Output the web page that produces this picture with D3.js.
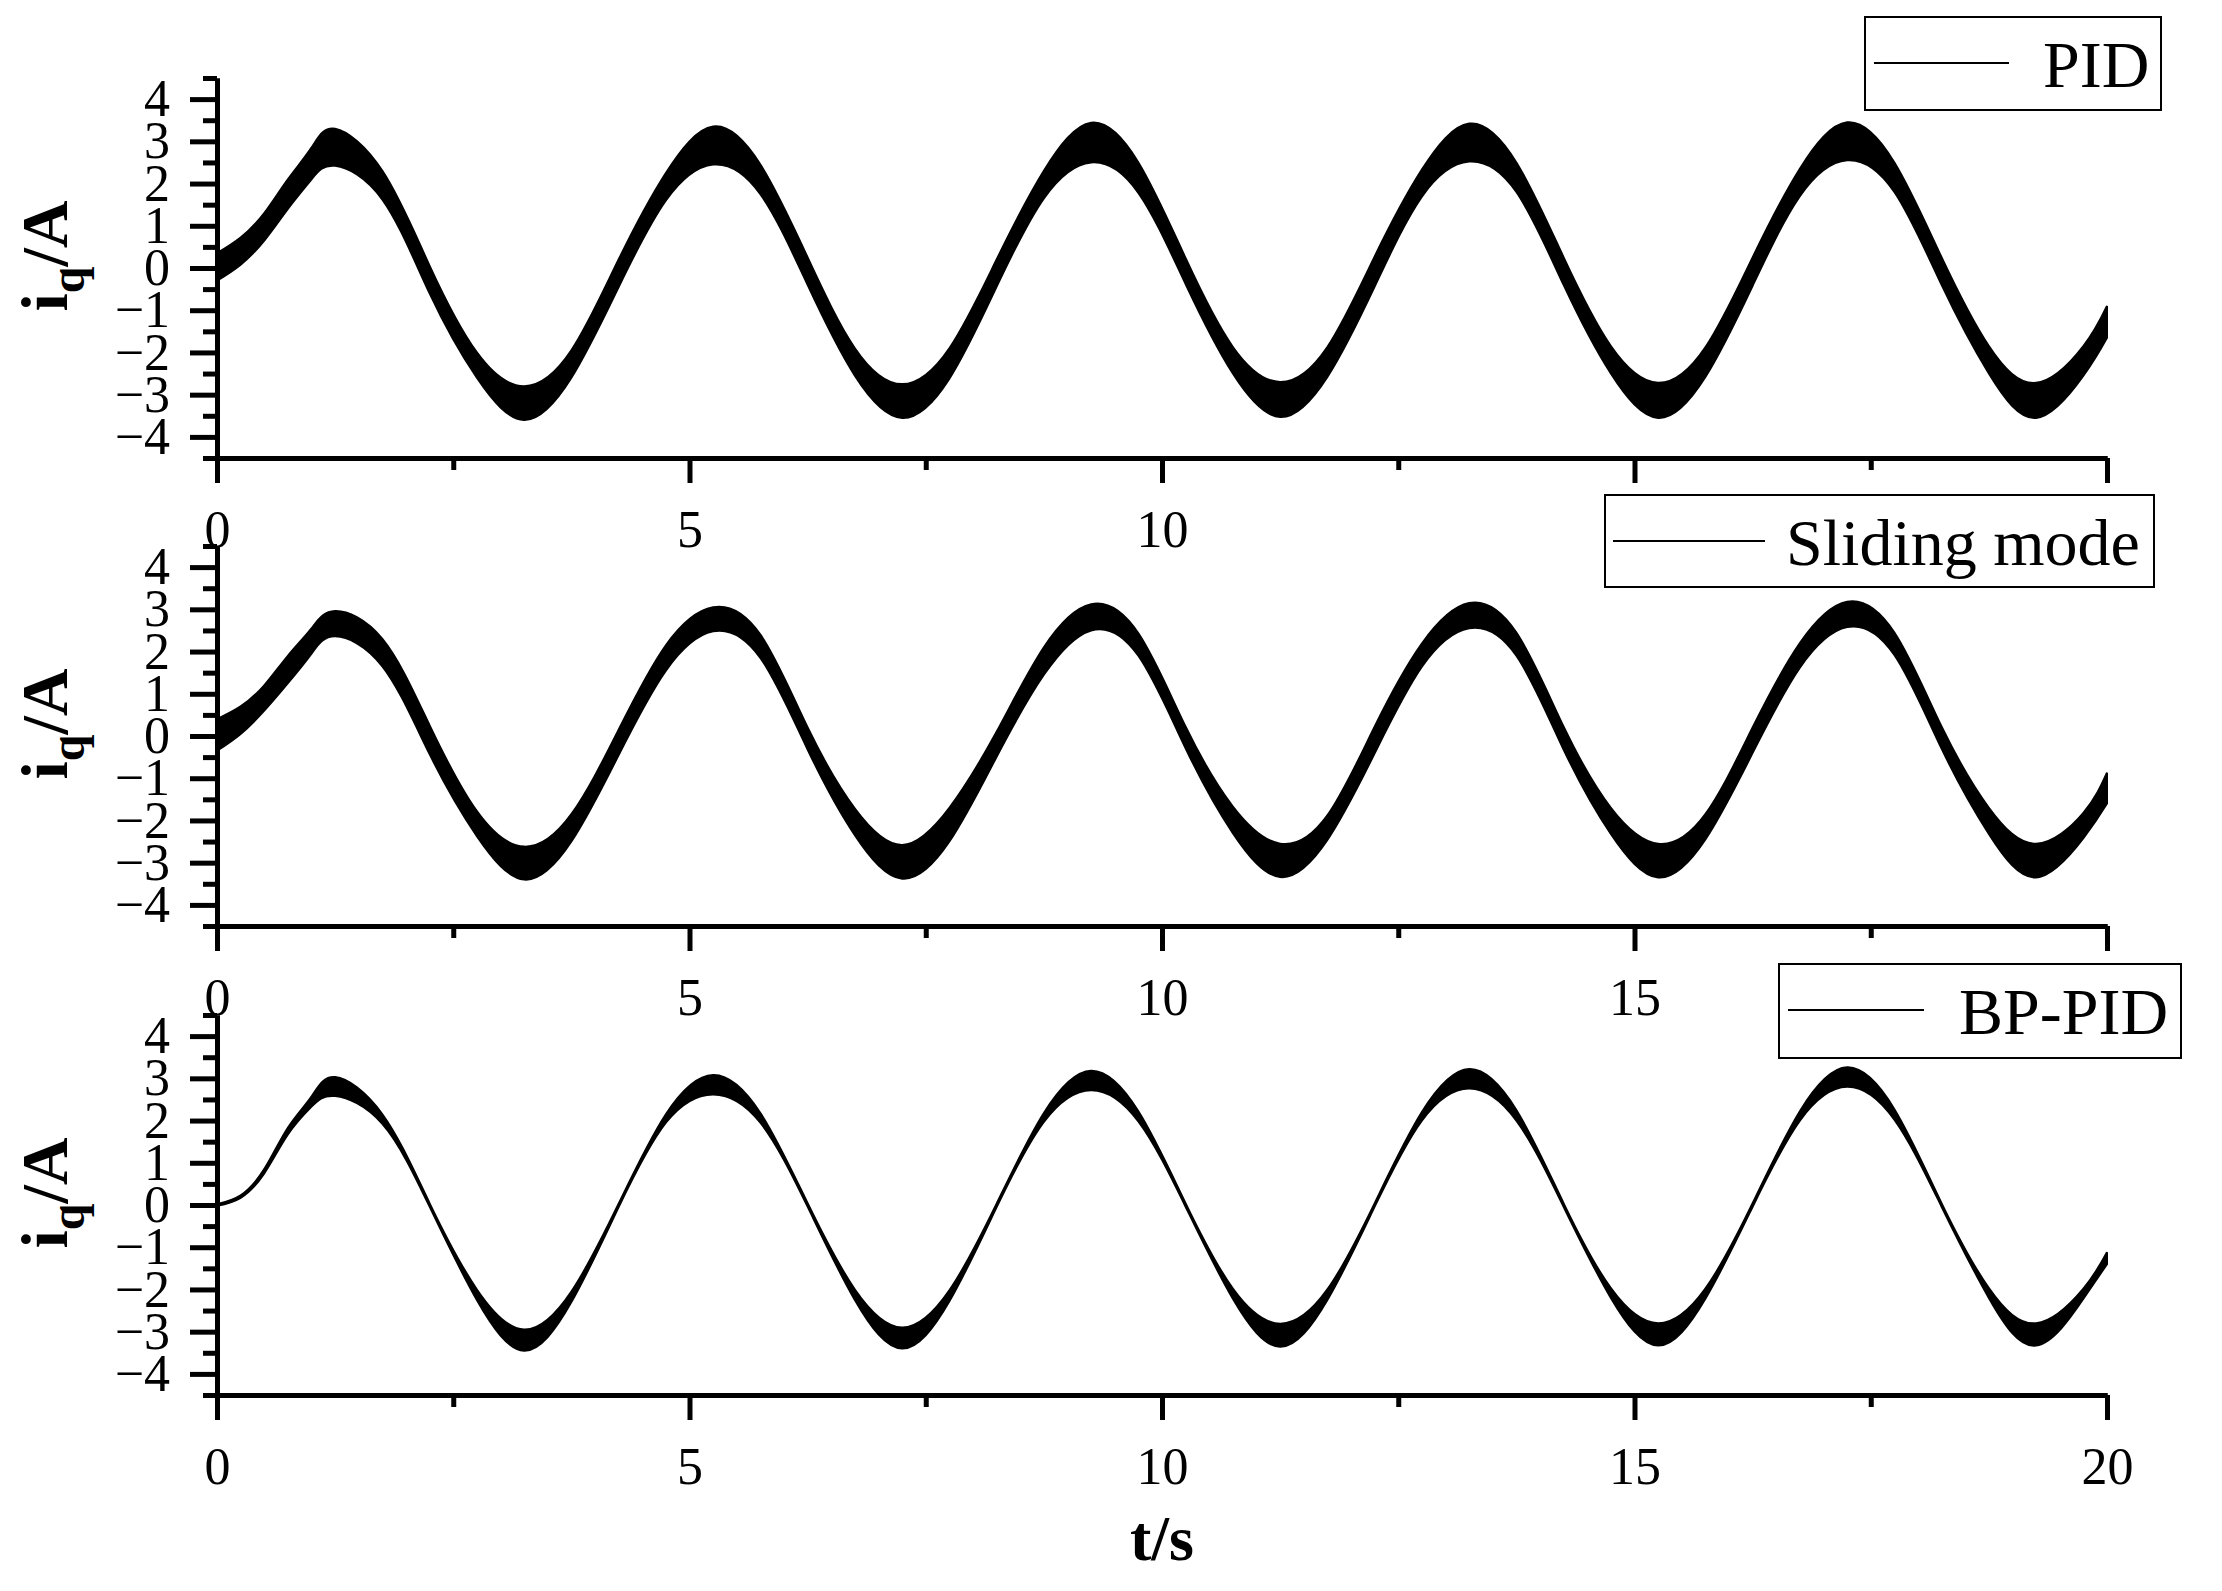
<!DOCTYPE html>
<html>
<head>
<meta charset="utf-8">
<script src="https://cdn.jsdelivr.net/npm/d3@7/dist/d3.min.js"></script>
<style>
body { margin: 0; background: #fff; }
text { font-family: "Liberation Serif", "Times New Roman", serif; fill: #000; }
</style>
</head>
<body>
<svg id="chart" width="2222" height="1591"></svg>
<script>
// sample times (s): start-up, then peaks / zero crossings / half-way points of each cycle
var time = [0, 0.25, 0.5, 0.75, 1, 1.25, 1.75, 2.25, 2.75, 3.25, 3.75, 4.25, 4.75,
	5.25, 5.75, 6.25, 6.75, 7.25, 7.75, 8.25, 8.75, 9.25, 9.75, 10.25, 10.75,
	11.25, 11.75, 12.25, 12.75, 13.25, 13.75, 14.25, 14.75, 15.25, 15.75, 16.25,
	16.75, 17.25, 17.75, 18.25, 18.75, 19.25, 19.75, 20];

// iq envelopes (A), upper and lower edge of the ripple band
var pidUpper = [0.35, 0.72, 1.30, 2.10, 2.85, 3.30, 2.30, 0.05, -2.00, -2.80, -1.95, 0.20, 2.25,
	3.35, 2.45, 0.25, -1.90, -2.75, -1.90, 0.20, 2.30, 3.44, 2.50, 0.23, -1.87,
	-2.70, -1.87, 0.27, 2.33, 3.42, 2.50, 0.25, -1.85, -2.72, -1.88, 0.25,
	2.35, 3.45, 2.50, 0.25, -1.85, -2.72, -1.85, -0.90];
var pidLower = [-0.30, 0.08, 0.65, 1.40, 2.10, 2.42, 1.62, -0.60, -2.60, -3.60, -2.60, -0.45, 1.60,
	2.45, 1.75, -0.40, -2.55, -3.55, -2.62, -0.44, 1.65, 2.50, 1.78, -0.38, -2.50,
	-3.53, -2.58, -0.44, 1.69, 2.52, 1.80, -0.40, -2.50, -3.55, -2.58, -0.42,
	1.70, 2.55, 1.80, -0.40, -2.50, -3.55, -2.55, -1.65];

var smcUpper = [0.40, 0.70, 1.20, 1.90, 2.55, 2.96, 2.30, 0.25, -1.78, -2.62, -1.85, 0.15, 2.15,
	3.05, 2.40, 0.20, -1.72, -2.58, -1.70, 0.10, 2.10, 3.12, 2.43, 0.22, -1.67,
	-2.55, -1.88, 0.22, 2.19, 3.15, 2.45, 0.22, -1.70, -2.55, -1.85, 0.20,
	2.20, 3.18, 2.45, 0.22, -1.70, -2.55, -1.82, -0.87];
var smcLower = [-0.35, 0.05, 0.60, 1.25, 1.95, 2.36, 1.65, -0.43, -2.37, -3.40, -2.50, -0.45, 1.55,
	2.48, 1.85, -0.32, -2.35, -3.38, -2.50, -0.49, 1.45, 2.50, 1.90, -0.29, -2.30,
	-3.34, -2.46, -0.41, 1.64, 2.55, 1.90, -0.32, -2.32, -3.35, -2.45, -0.40,
	1.62, 2.58, 1.92, -0.30, -2.32, -3.35, -2.42, -1.60];

var bpUpper = [0.02, 0.23, 0.85, 1.83, 2.57, 3.03, 2.15, 0.04, -2.00, -2.95, -2.05, 0.03, 2.15,
	3.08, 2.18, 0.04, -2.00, -2.90, -2.02, 0.03, 2.18, 3.18, 2.22, 0.04, -1.98,
	-2.81, -2.00, 0.04, 2.20, 3.22, 2.25, 0.04, -1.97, -2.80, -1.98, 0.04,
	2.22, 3.26, 2.27, 0.04, -1.97, -2.80, -1.98, -1.12];
var bpLower = [-0.02, 0.17, 0.75, 1.67, 2.33, 2.58, 1.92, -0.04, -2.25, -3.45, -2.30, -0.05, 1.95,
	2.62, 1.95, -0.04, -2.25, -3.40, -2.28, -0.05, 1.97, 2.72, 1.98, -0.04, -2.22,
	-3.36, -2.25, -0.04, 2.00, 2.76, 2.00, -0.04, -2.20, -3.33, -2.22, -0.04,
	2.00, 2.80, 2.02, -0.04, -2.20, -3.33, -2.22, -1.40];

var seriesNames = ['PID', 'Sliding mode', 'BP-PID'];
var xTicks = [0, 5, 10, 15, 20];
var xMinorTicks = [2.5, 7.5, 12.5, 17.5];
var yTicks = [-4, -3, -2, -1, 0, 1, 2, 3, 4];
var yMinorTicks = [-4.5, -3.5, -2.5, -1.5, -0.5, 0.5, 1.5, 2.5, 3.5, 4.5];
// x labels left visible (the others sit under the next panel's legend)
var xLabelsShown = [[0, 5, 10], [0, 5, 10, 15], [0, 5, 10, 15, 20]];

var PLOT_LEFT = 217;
var PLOT_RIGHT = 2107;
var PANEL_HEIGHT = 380;
var AXIS_WIDTH = 5;

// one entry per stacked panel
var panels = [
	{top: 78, name: seriesNames[0], upper: pidUpper, lower: pidLower,
		legend: {x: 1865, y: 17, w: 296, h: 93, line: [1874, 2009], textX: 2043}},
	{top: 546, name: seriesNames[1], upper: smcUpper, lower: smcLower,
		legend: {x: 1605, y: 495, w: 549, h: 92, line: [1613, 1765], textX: 1786}},
	{top: 1015, name: seriesNames[2], upper: bpUpper, lower: bpLower,
		legend: {x: 1779, y: 964, w: 402, h: 94, line: [1788, 1924], textX: 1959}}
];

var svg = d3.select('#chart');

var x = d3.scaleLinear()
	.domain([0, 20])
	.range([PLOT_LEFT, PLOT_RIGHT]);

function styleAxis(g) {
	g.selectAll('path, line')
		.attr('stroke', '#000')
		.attr('stroke-width', AXIS_WIDTH);
	g.selectAll('text')
		.attr('font-size', 52)
		.attr('fill', '#000')
		.style('font-family', '"Liberation Serif", "Times New Roman", serif');
}

panels.forEach(function(p, k) {
	var bottom = p.top + PANEL_HEIGHT;
	var y = d3.scaleLinear()
		.domain([-4.5, 4.5])
		.range([bottom, p.top]);

	var g = svg.append('g').attr('class', 'panel');

	// ripple band of the current signal
	var band = d3.area()
		.x(function(d, i) { return x(time[i]); })
		.y0(function(d, i) { return y(p.lower[i]); })
		.y1(function(d, i) { return y(p.upper[i]); })
		.curve(d3.curveNatural);

	g.append('path')
		.datum(time)
		.attr('d', band)
		.attr('fill', '#000')
		.attr('stroke', '#000')
		.attr('stroke-width', 2);

	// y axis, major + minor
	g.append('g')
		.attr('transform', 'translate(' + PLOT_LEFT + ',0)')
		.call(d3.axisLeft(y).tickValues(yMinorTicks).tickSize(14).tickSizeOuter(0).tickFormat(''))
		.call(styleAxis);
	g.append('g')
		.attr('transform', 'translate(' + PLOT_LEFT + ',0)')
		.call(d3.axisLeft(y).tickValues(yTicks).tickSize(27).tickPadding(20).tickSizeOuter(0)
			.tickFormat(function(d) { return d < 0 ? '\u2212' + Math.abs(d) : String(d); }))
		.call(styleAxis);

	// x axis, major + minor
	g.append('g')
		.attr('transform', 'translate(0,' + bottom + ')')
		.call(d3.axisBottom(x).tickValues(xMinorTicks).tickSize(12).tickSizeOuter(0).tickFormat(''))
		.call(styleAxis);
	g.append('g')
		.attr('transform', 'translate(0,' + bottom + ')')
		.call(d3.axisBottom(x).tickValues(xTicks).tickSize(25).tickPadding(27).tickSizeOuter(0)
			.tickFormat(function(d) { return xLabelsShown[k].indexOf(d) >= 0 ? String(d) : ''; }))
		.call(styleAxis);

	// y title  i_q/A
	var title = g.append('text')
		.attr('transform', 'translate(67,' + (p.top + 178) + ') rotate(-90)')
		.attr('text-anchor', 'middle')
		.attr('font-weight', 'bold')
		.attr('font-size', 66);
	title.append('tspan').text('i');
	title.append('tspan').attr('font-size', 48).attr('dy', 17).text('q');
	title.append('tspan').attr('dy', -17).text('/A');

	// legend box
	var lg = p.legend;
	g.append('rect')
		.attr('x', lg.x).attr('y', lg.y)
		.attr('width', lg.w).attr('height', lg.h)
		.attr('fill', '#fff')
		.attr('stroke', '#000')
		.attr('stroke-width', 2);
	g.append('line')
		.attr('x1', lg.line[0]).attr('x2', lg.line[1])
		.attr('y1', lg.y + 46).attr('y2', lg.y + 46)
		.attr('stroke', '#000')
		.attr('stroke-width', 2);
	g.append('text')
		.attr('x', lg.textX)
		.attr('y', lg.y + 70)
		.attr('font-size', 66)
		.text(p.name);
});

// x title
svg.append('text')
	.attr('x', (PLOT_LEFT + PLOT_RIGHT) / 2)
	.attr('y', 1560)
	.attr('text-anchor', 'middle')
	.attr('font-weight', 'bold')
	.attr('font-size', 64)
	.text('t/s');
</script>
</body>
</html>
